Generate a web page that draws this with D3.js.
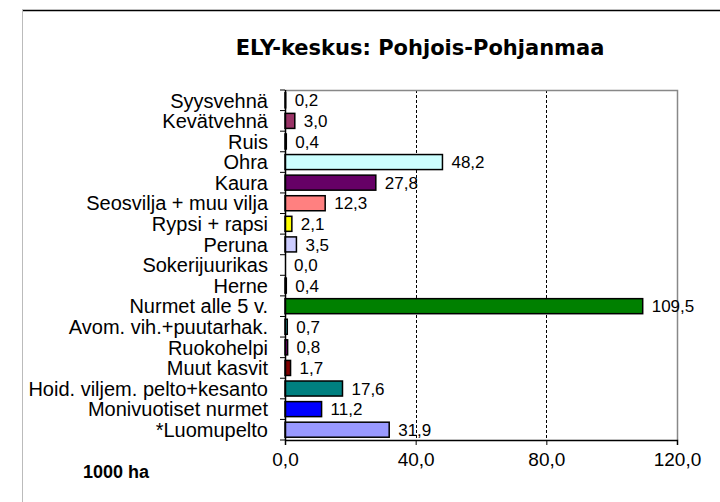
<!DOCTYPE html>
<html>
<head>
<meta charset="utf-8">
<script src="https://cdn.jsdelivr.net/npm/d3@7"></script>
<style>
  html, body { margin: 0; padding: 0; background: #fff; }
  svg { display: block; }
</style>
</head>
<body>
<svg id="chart"></svg>
<script>
const title = 'ELY-keskus: Pohjois-Pohjanmaa';
const unitLabel = '1000 ha';

const categories = [
  'Syysvehnä',
  'Kevätvehnä',
  'Ruis',
  'Ohra',
  'Kaura',
  'Seosvilja + muu vilja',
  'Rypsi + rapsi',
  'Peruna',
  'Sokerijuurikas',
  'Herne',
  'Nurmet alle 5 v.',
  'Avom. vih.+puutarhak.',
  'Ruokohelpi',
  'Muut kasvit',
  'Hoid. viljem. pelto+kesanto',
  'Monivuotiset nurmet',
  '*Luomupelto',
];
const values = [0.2, 3.0, 0.4, 48.2, 27.8, 12.3, 2.1, 3.5, 0.0, 0.4, 109.5, 0.7, 0.8, 1.7, 17.6, 11.2, 31.9];
const barColors = [
  '#1a1a1a', '#993366', '#1a1a1a', '#ccffff', '#660066', '#ff8080',
  '#ffff00', '#ccccff', '#1a1a1a', '#1a1a1a', '#008000', '#33cccc',
  '#800080', '#800000', '#008080', '#0000ff', '#9999ff',
];
const xTicks = [0, 40, 80, 120];

const width = 720;
const height = 502;
const margin = { top: 90, right: 43, bottom: 62, left: 285 };
const graphW = width - margin.left - margin.right;
const graphH = height - margin.top - margin.bottom;
const font = '"Liberation Sans", Arial, sans-serif';

const locale = d3.formatLocale({ decimal: ',', thousands: ' ', grouping: [3], currency: ['', ''] });
const fmt = locale.format('.1f');

const svg = d3.select('#chart')
  .attr('width', width)
  .attr('height', height)
  .style('font-family', font);

// outer frame (top + left edge only visible)
svg.append('line')
  .attr('x1', 22).attr('x2', width)
  .attr('y1', 10.5).attr('y2', 10.5)
  .attr('stroke', '#000').attr('stroke-width', 1.5);
svg.append('line')
  .attr('x1', 22.5).attr('x2', 22.5)
  .attr('y1', 10).attr('y2', height)
  .attr('stroke', '#bbb').attr('stroke-width', 1);

svg.append('text')
  .attr('x', 420)
  .attr('y', 55)
  .attr('text-anchor', 'middle')
  .style('font-family', '"DejaVu Sans", Verdana, sans-serif')
  .style('font-weight', 'bold')
  .style('font-size', '21px')
  .text(title);

svg.append('text')
  .attr('x', 83)
  .attr('y', 478)
  .style('font-weight', 'bold')
  .style('font-size', '18px')
  .text(unitLabel);

const xScale = d3.scaleLinear().domain([0, 120]).range([0, graphW]);
const yScale = d3.scaleBand().domain(categories).range([0, graphH]).paddingInner(0.27).paddingOuter(0.135);

const graph = svg.append('g')
  .attr('transform', `translate(${margin.left},${margin.top})`);

// grid
graph.selectAll('line.x-grid')
  .data(xTicks.filter(t => t > 0 && t < 120))
  .enter()
  .append('line')
  .attr('class', 'x-grid')
  .attr('x1', d => Math.round(xScale(d)) + 0.5)
  .attr('x2', d => Math.round(xScale(d)) + 0.5)
  .attr('y1', 0)
  .attr('y2', graphH)
  .attr('stroke', '#000')
  .attr('stroke-width', 1)
  .attr('stroke-dasharray', '3,2');

// plot frame top/right
graph.append('path')
  .attr('d', `M0,0.5H${graphW + 0.5}V${graphH}`)
  .attr('fill', 'none')
  .attr('stroke', '#888')
  .attr('stroke-width', 1.5);

// bars
graph.selectAll('rect.bar')
  .data(values)
  .enter()
  .append('rect')
  .attr('class', 'bar')
  .attr('x', 0)
  .attr('y', (d, i) => yScale(categories[i]))
  .attr('width', d => xScale(d))
  .attr('height', yScale.bandwidth())
  .attr('fill', (d, i) => barColors[i])
  .attr('stroke', d => (d > 0 ? '#000' : 'none'))
  .attr('stroke-width', 1.5);

// value labels
graph.selectAll('text.value')
  .data(values)
  .enter()
  .append('text')
  .attr('class', 'value')
  .attr('x', d => xScale(d) + 9)
  .attr('y', (d, i) => yScale(categories[i]) + yScale.bandwidth() / 2)
  .attr('dy', '0.36em')
  .style('font-size', '17px')
  .text(d => fmt(d));

// y axis: ticks at band boundaries
const boundaries = d3.range(categories.length + 1).map(i => i * graphH / categories.length);
graph.selectAll('line.y-tick')
  .data(boundaries)
  .enter()
  .append('line')
  .attr('class', 'y-tick')
  .attr('x1', -5)
  .attr('x2', 0)
  .attr('y1', d => d)
  .attr('y2', d => d)
  .attr('stroke', '#000')
  .attr('stroke-width', 1);

graph.selectAll('text.cat')
  .data(categories)
  .enter()
  .append('text')
  .attr('class', 'cat')
  .attr('x', -17)
  .attr('y', d => yScale(d) + yScale.bandwidth() / 2)
  .attr('dy', '0.36em')
  .attr('text-anchor', 'end')
  .style('font-size', '20px')
  .text(d => d);

graph.append('line')
  .attr('x1', 0.5).attr('x2', 0.5)
  .attr('y1', 0).attr('y2', graphH)
  .attr('stroke', '#000').attr('stroke-width', 1.5);

// x axis
const xAxis = d3.axisBottom(xScale)
  .tickValues(xTicks)
  .tickSize(5)
  .tickPadding(8)
  .tickFormat(d => fmt(d));

const xAxisG = graph.append('g')
  .attr('class', 'x-axis')
  .attr('transform', `translate(0,${graphH})`)
  .call(xAxis);
xAxisG.select('.domain').attr('stroke', '#000').attr('stroke-width', 1.5);
xAxisG.selectAll('.tick line').attr('stroke', '#000');
xAxisG.selectAll('.tick text')
  .style('font-family', font)
  .style('font-size', '19px')
  .attr('fill', '#000');
</script>
</body>
</html>
